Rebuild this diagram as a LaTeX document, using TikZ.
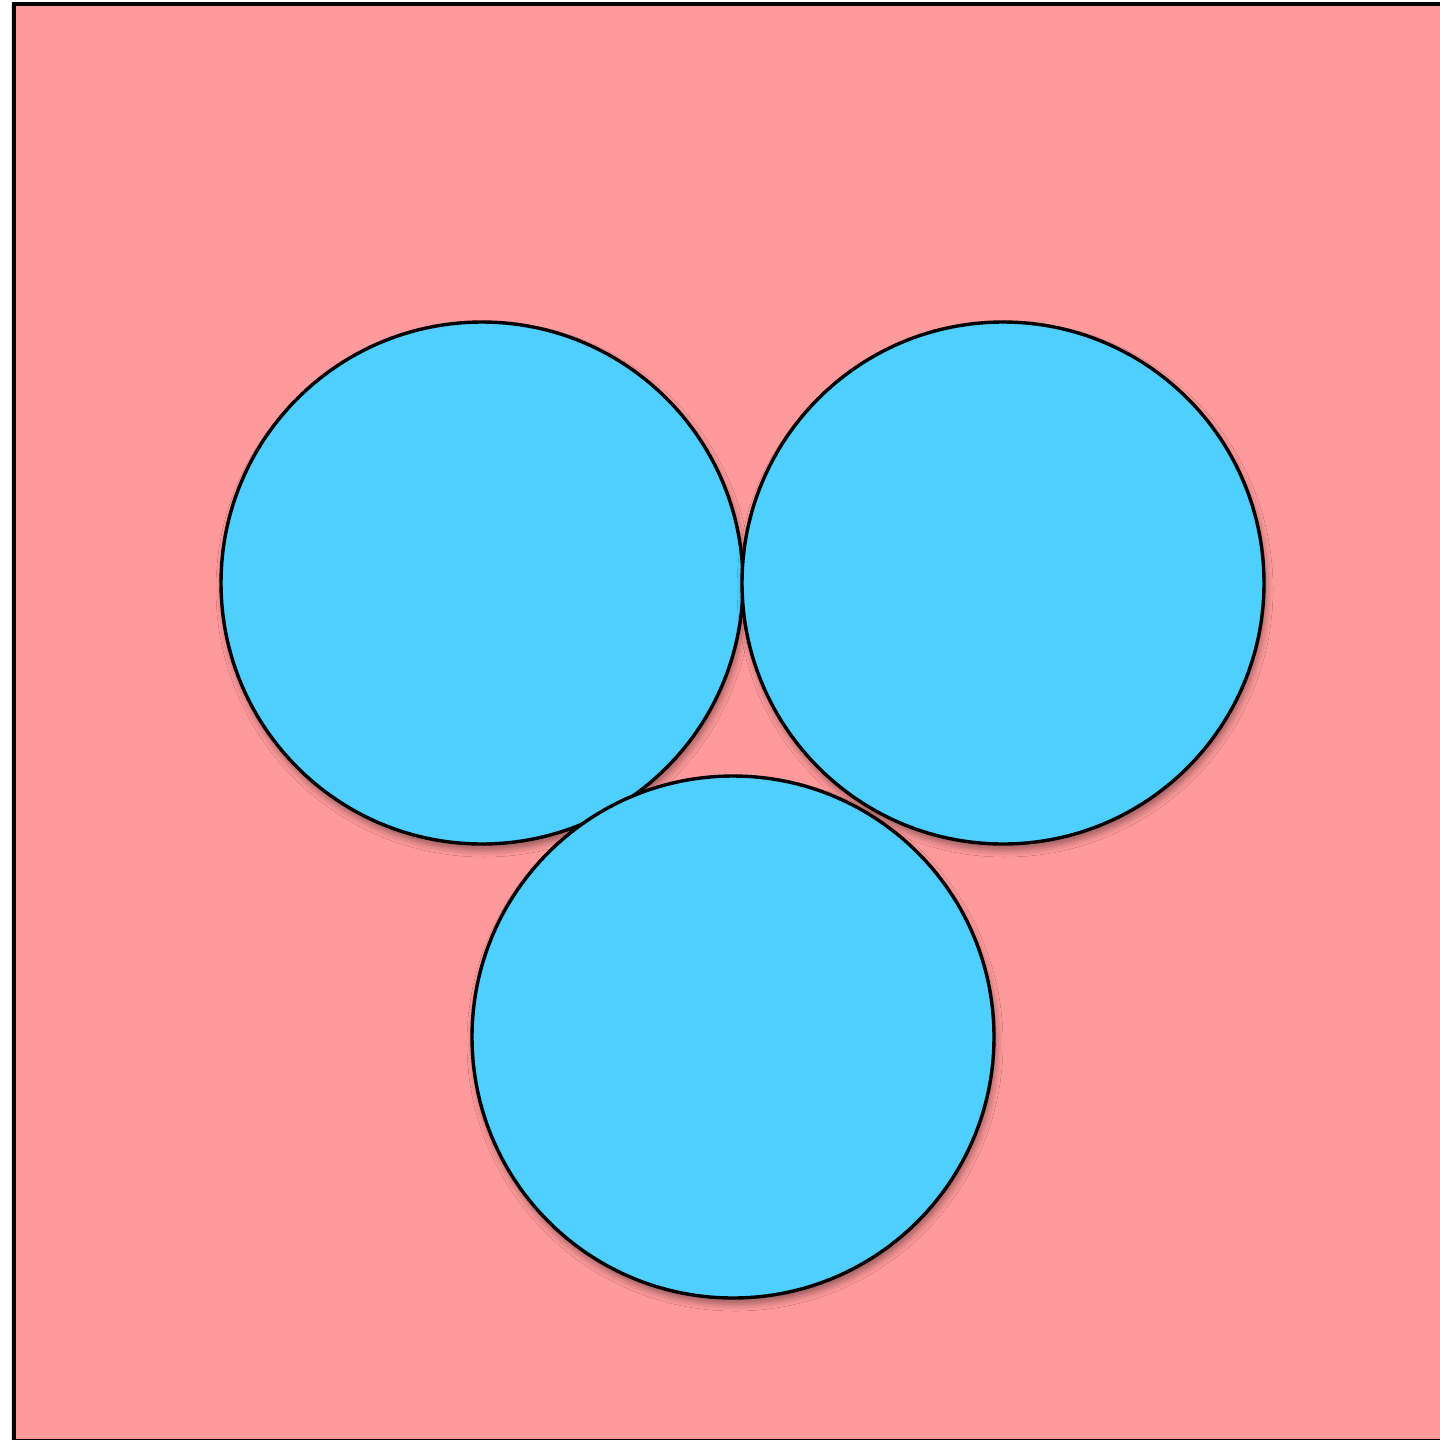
\documentclass[tikz,border=0pt]{standalone}
\usetikzlibrary{shadows.blur}
\definecolor{bgpink}{RGB}{255,154,156}
\definecolor{ballblue}{RGB}{78,207,255}
\begin{document}
\begin{tikzpicture}[x=0.05cm,y=-0.05cm,
  ball/.style={circle, draw=black, fill=ballblue, line width=0.17cm,
    minimum size=26.1cm, inner sep=0pt,
    blur shadow={shadow xshift=0.1cm, shadow yshift=-0.3cm, shadow blur radius=0.35cm, shadow opacity=40}},
  board/.style={fill=bgpink, draw=black, line width=0.16cm}]
\useasboundingbox (0,0) rectangle (1440,1439);
\clip (0,0) rectangle (1440,1439);
\fill[black!15] (11,5) rectangle (14,1445);
\draw[board] (14,4) rectangle (1450,1440.5);
\node[ball] (left) at (482,583) {};
\node[ball] (right) at (1003,583) {};
\node[ball] (bottom) at (733,1037) {};
\end{tikzpicture}
\end{document}
